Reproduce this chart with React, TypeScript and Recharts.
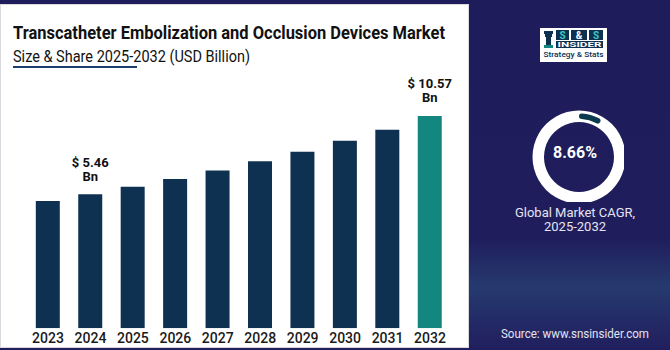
import { BarChart, Bar, XAxis, YAxis, Cell, LabelList, PieChart, Pie } from 'recharts';

const years = ['2023', '2024', '2025', '2026', '2027', '2028', '2029', '2030', '2031', '2032'];
const marketSize = [5.02, 5.46, 5.94, 6.45, 7.01, 7.61, 8.23, 8.95, 9.67, 10.57];
const labeledYears = ['2024', '2032'];
const cagr = 8.66;

// axis floor of the original picture (bars do not start at zero)
const AXIS_MIN = -3.29;
const AXIS_MAX = 12;

const NAVY = '#0e3152';
const TEAL = '#13877f';

const data = years.map((year, i) => ({ year, value: marketSize[i] }));
const ring = [{ name: 'ring', value: 1 }];
const cagrArc = [{ name: 'cagr', value: cagr }];

const BarLabel = (props: any) => {
  const { x, y, width, index } = props;
  const d = data[index];
  if (!d || !labeledYears.includes(d.year)) return null;
  const cx = x + width / 2;
  return (
    <text x={cx} y={y - 27.5} textAnchor="middle" fontSize={13} fontWeight={700} fill="#111">
      <tspan x={cx}>$ {d.value.toFixed(2)}</tspan>
      <tspan x={cx} dy={14}>Bn</tspan>
    </text>
  );
};

export default function App() {
  return (
    <div
      style={{
        position: 'relative',
        width: 670,
        height: 350,
        overflow: 'hidden',
        fontFamily: 'Roboto, sans-serif',
        background:
          'linear-gradient(to bottom, #1e1c5a 0%, #1f1d5c 68%, #263a6e 82%, #232a66 92%, #211e5d 100%)',
      }}
    >
      <style>{'body{margin:0}'}</style>
      <div
        style={{
          position: 'absolute',
          left: 0,
          top: 4,
          width: 469,
          height: 344,
          background: '#fff',
          boxSizing: 'border-box',
          border: '1px solid #d8d8de',
        }}
      />
      <div style={{ position: 'absolute', left: 0, top: 0 }}>
        <BarChart
          width={470}
          height={350}
          data={data}
          margin={{ top: 94, right: 18.8, left: 26.8, bottom: 1.7 }}
          barSize={24}
        >
          <XAxis
            dataKey="year"
            axisLine={false}
            tickLine={false}
            tickSize={0}
            tickMargin={5}
            height={20}
            interval={0}
            tick={{ fill: '#1a1a1a', fontSize: 14, fontWeight: 500 }}
          />
          <YAxis hide domain={[AXIS_MIN, AXIS_MAX]} allowDataOverflow />
          <Bar dataKey={(d: any) => [AXIS_MIN, d.value]} isAnimationActive={false}>
            {data.map((d, i) => (
              <Cell key={d.year} fill={i === data.length - 1 ? TEAL : NAVY} />
            ))}
            <LabelList content={<BarLabel />} />
          </Bar>
        </BarChart>
      </div>

      <div style={{ position: 'absolute', left: 524, top: 101.5 }}>
        <PieChart width={100} height={100}>
          <Pie
            data={ring}
            dataKey="value"
            cx={50}
            cy={50}
            innerRadius={35}
            outerRadius={46.5}
            startAngle={90}
            endAngle={-270}
            stroke="none"
            fill="#ffffff"
            isAnimationActive={false}
          />
          <Pie
            data={cagrArc}
            dataKey="value"
            cx={50}
            cy={50}
            innerRadius={38}
            outerRadius={43.5}
            startAngle={90}
            endAngle={90 - (cagr / 100) * 360}
            cornerRadius={3}
            stroke="none"
            fill="#0b3a4e"
            isAnimationActive={false}
          />
        </PieChart>
      </div>

      <svg
        width={670}
        height={350}
        style={{ position: 'absolute', left: 0, top: 0, pointerEvents: 'none' }}
      >
        <text x={13} y={39} fontSize={19} fontWeight={700} fill="#111" textLength={432} lengthAdjust="spacingAndGlyphs">
          Transcatheter Embolization and Occlusion Devices Market
        </text>
        <text x={13} y={62} fontSize={16.5} fill="#111" textLength={237} lengthAdjust="spacingAndGlyphs">
          Size &amp; Share 2025-2032 (USD Billion)
        </text>
        <rect x={13} y={66} width={124} height={2} fill="#1d3d6e" />

        {/* logo */}
        <rect x={540} y={28} width={67} height={34} fill="#fff" />
        <rect x={544} y={31} width={9} height={3} fill="#0e3152" />
        <rect x={545} y={34} width={7} height={3} fill="#0e3152" />
        <rect x={546} y={37} width={5} height={9} fill="#0e3152" />
        <rect x={544} y={45} width={9} height={3} fill="#13877f" />
        <rect x={556} y={30} width={13} height={10} fill="#0e3152" />
        <rect x={571} y={30} width={16} height={10} fill="#0e3152" />
        <rect x={589} y={30} width={14} height={10} fill="#0e3152" />
        <text x={562.5} y={38.5} fontSize={10} fontWeight={700} fill="#3fc7c0" textAnchor="middle">S</text>
        <text x={579} y={38.5} fontSize={10} fontWeight={700} fill="#fff" textAnchor="middle">&amp;</text>
        <text x={596} y={38.5} fontSize={10} fontWeight={700} fill="#3fc7c0" textAnchor="middle">S</text>
        <rect x={556} y={41} width={47} height={7} fill="#0e3152" />
        <text x={579.5} y={47} fontSize={7} fontWeight={700} fill="#fff" textAnchor="middle" textLength={44} lengthAdjust="spacingAndGlyphs">INSIDER</text>
        <text x={573.5} y={57} fontSize={7.5} fontWeight={500} fill="#0e3152" textAnchor="middle" textLength={60} lengthAdjust="spacingAndGlyphs">Strategy &amp; Stats</text>

        <text x={575} y={158} fontSize={16} fontWeight={700} fill="#fff" textAnchor="middle">
          {cagr.toFixed(2)}%
        </text>
        <text x={575} y={217} fontSize={13} fill="#e4e4f2" textAnchor="middle">
          <tspan x={575}>Global Market CAGR,</tspan>
          <tspan x={575} dy={13.5}>2025-2032</tspan>
        </text>
        <text x={575} y={338} fontSize={12} fill="#e4e4f2" textAnchor="middle" textLength={148} lengthAdjust="spacingAndGlyphs">
          Source: www.snsinsider.com
        </text>
      </svg>
    </div>
  );
}
